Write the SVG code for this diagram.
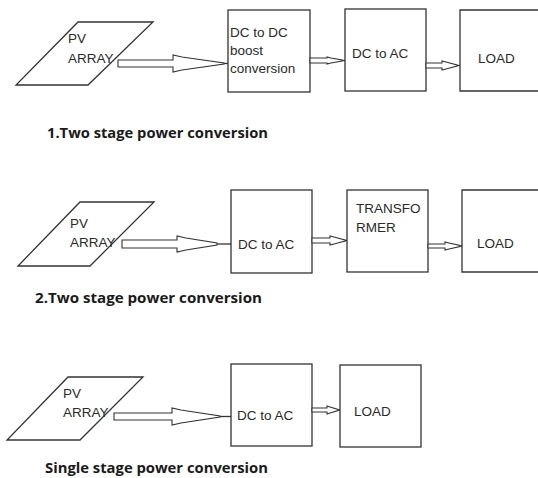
<svg xmlns="http://www.w3.org/2000/svg" width="538" height="478" viewBox="0 0 538 478">
<style>
.s{fill:#fff;stroke:#333;stroke-width:1.3}
.c{fill:none;stroke:#333;stroke-width:1.3}
.a{fill:#fff;stroke:#333;stroke-width:1.1;stroke-linejoin:miter}
.t{font-family:"Liberation Sans",Arial,sans-serif;font-size:13.5px;fill:#2a2a2a}
.h{font-family:"Open Sans","Liberation Sans",sans-serif;font-size:14px;font-weight:bold;fill:#1a1a1a}
</style>
<rect width="538" height="478" fill="#fff"/>
<g id="row1">
<g id="pv1"><polygon class="s" points="78,22 153,22 88,85 16,85"/><text class="t" x="68" y="43">PV</text><text class="t" x="68" y="63">ARRAY</text></g>
<g id="boost1"><rect class="s" x="228" y="10" width="82" height="82"/><text class="t" x="230" y="37">DC to DC</text><text class="t" x="230" y="55">boost</text><text class="t" x="230" y="73">conversion</text></g>
<g id="inv1"><rect class="s" x="345" y="9" width="81" height="82"/><text class="t" x="352" y="58">DC to AC</text></g>
<g id="load1"><path class="c" d="M540,10 H460 V91 H540"/><text class="t" x="478" y="63">LOAD</text></g>
</g>
<g id="row2">
<g id="pv2"><polygon class="s" points="80,202 154,202 90,266 18,266"/><text class="t" x="70" y="228">PV</text><text class="t" x="70" y="247">ARRAY</text></g>
<g id="inv2"><rect class="s" x="231" y="190" width="81" height="83"/><text class="t" x="238" y="249">DC to AC</text></g>
<g id="trans2"><rect class="s" x="347" y="190" width="81" height="82"/><text class="t" x="356" y="213">TRANSFO</text><text class="t" x="356" y="232">RMER</text></g>
<g id="load2"><path class="c" d="M540,190 H462 V272 H540"/><text class="t" x="477" y="248">LOAD</text></g>
</g>
<g id="row3">
<g id="pv3"><polygon class="s" points="68,377 143,377 80,440 7,440"/><text class="t" x="63" y="398">PV</text><text class="t" x="63" y="417">ARRAY</text></g>
<g id="inv3"><rect class="s" x="231" y="364" width="81" height="82"/><text class="t" x="237" y="420">DC to AC</text></g>
<g id="load3"><rect class="s" x="340" y="365" width="81" height="82"/><text class="t" x="354" y="416">LOAD</text></g>
</g>
<g id="connectors">
<polygon class="a" points="118,60 173,60 173,55 182,57 224,63 224,64 182,70 173,72 173,67 118,67"/>
<line class="c" x1="224" y1="63.5" x2="228" y2="63.5"/>
<polygon class="a" points="310,58 327,58 327,57 331,58 342,60 342,61 331,63 327,64 327,63 310,63"/>
<line class="c" x1="342" y1="60.5" x2="345" y2="60.5"/>
<polygon class="a" points="426,63 442,63 442,61 446,62 457,65 457,66 446,69 442,70 442,68 426,68"/>
<line class="c" x1="457" y1="65.5" x2="460" y2="65.5"/>

<polygon class="a" points="122,240 177,240 177,236 186,238 217,243 217,245 186,250 177,252 177,248 122,248"/>
<line class="c" x1="217" y1="244" x2="231" y2="244"/>
<polygon class="a" points="312,238 330,238 330,236 334,237 345,240 345,241 334,244 330,245 330,243 312,243"/>
<line class="c" x1="345" y1="240.5" x2="347" y2="240.5"/>
<polygon class="a" points="428,244 445,244 445,242 449,243 460,245.5 460,246.5 449,249 445,250 445,248 428,248"/>
<line class="c" x1="460" y1="246" x2="462" y2="246"/>

<polygon class="a" points="114,413 172,413 172,408 181,410 220,416 220,417 181,423 172,425 172,420 114,420"/>
<line class="c" x1="220" y1="416.5" x2="231" y2="416.5"/>
<polygon class="a" points="312,408 327,408 327,406 330,407 338,409.5 338,410.5 330,413 327,414 327,412 312,412"/>
<line class="c" x1="338" y1="410" x2="340" y2="410"/>
</g>
<g id="titles">
<text class="h" x="47" y="138" textLength="221" lengthAdjust="spacingAndGlyphs">1.Two stage power conversion</text>
<text class="h" x="35" y="303" textLength="227" lengthAdjust="spacingAndGlyphs">2.Two stage power conversion</text>
<text class="h" x="45" y="473" textLength="223" lengthAdjust="spacingAndGlyphs">Single stage power conversion</text>
</g>
</svg>
